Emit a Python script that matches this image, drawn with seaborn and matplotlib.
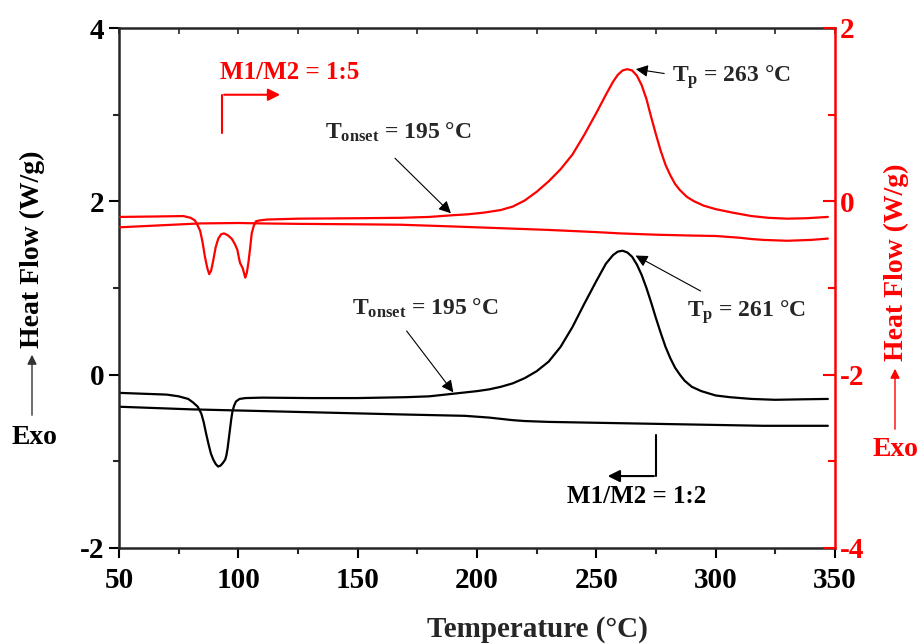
import matplotlib
matplotlib.use('Agg')
import numpy as np
import pandas as pd
import seaborn as sns
import matplotlib.pyplot as plt
from matplotlib.ticker import MultipleLocator

# M1/M2 = 1:2, first run (left axis, W/g)
temp_b1 = [50, 60, 70, 75, 79, 81, 83, 84.5, 85.5, 86.5, 87.5, 88.5, 89.5, 90.5, 91.5, 92.5,
           93.5, 94.5, 95, 95.5, 96, 96.5, 97, 97.5, 98.2, 99, 100.5, 103, 110, 130, 150, 170,
           180, 190, 200, 205, 210, 215, 220, 225, 230, 235, 240, 245, 250, 254, 257, 259, 261,
           263, 265, 267, 269, 271, 273, 275, 277, 279, 281, 283, 285, 287, 290, 294, 300, 306,
           315, 325, 335, 347]
flow_b1 = [-0.21, -0.22, -0.23, -0.25, -0.28, -0.32, -0.37, -0.45, -0.55, -0.68, -0.80, -0.91,
           -0.98, -1.03, -1.06, -1.05, -1.02, -0.98, -0.93, -0.85, -0.74, -0.63, -0.52, -0.43,
           -0.36, -0.31, -0.28, -0.27, -0.265, -0.27, -0.27, -0.26, -0.25, -0.22, -0.19, -0.17,
           -0.14, -0.10, -0.04, 0.04, 0.15, 0.32, 0.55, 0.82, 1.08, 1.28, 1.38, 1.42, 1.43,
           1.41, 1.36, 1.27, 1.15, 1.00, 0.83, 0.65, 0.48, 0.32, 0.19, 0.08, 0.00, -0.07, -0.14,
           -0.19, -0.24, -0.26, -0.28, -0.29, -0.285, -0.28]
# M1/M2 = 1:2, second run
temp_b2 = [50, 80, 110, 140, 170, 195, 200, 205, 210, 215, 220, 230, 240, 260, 280, 300, 320, 347]
flow_b2 = [-0.37, -0.40, -0.42, -0.44, -0.46, -0.475, -0.485, -0.495, -0.51, -0.525, -0.535,
           -0.545, -0.55, -0.56, -0.57, -0.58, -0.59, -0.59]

# M1/M2 = 1:5, first run (right axis, W/g)
temp_r1 = [50, 65, 77, 80, 81.8, 83, 84, 85, 86, 87, 87.8, 88.6, 89.5, 90.5, 91.6, 92.8, 94,
           95.5, 97.2, 98.5, 99.6, 100.3, 100.7, 101.8, 102.5, 102.9, 103.6, 104.2, 104.9,
           105.6, 106.5, 107.4, 109, 112, 125, 150, 168, 180, 190, 196, 203, 210, 215, 220,
           225, 230, 235, 240, 245, 250, 254, 257, 259, 261, 263, 265, 267, 269, 271, 273,
           275, 277, 279, 281, 283, 285, 288, 291, 295, 300, 307, 315, 322, 330, 338, 347]
flow_r1 = [-0.18, -0.175, -0.17, -0.19, -0.22, -0.28, -0.34, -0.47, -0.64, -0.77, -0.84, -0.80,
           -0.68, -0.53, -0.43, -0.38, -0.37, -0.39, -0.43, -0.49, -0.56, -0.66, -0.71, -0.77,
           -0.84, -0.88, -0.82, -0.71, -0.55, -0.37, -0.28, -0.23, -0.22, -0.21, -0.20, -0.195,
           -0.19, -0.18, -0.16, -0.15, -0.13, -0.10, -0.06, 0.01, 0.11, 0.23, 0.37, 0.54, 0.77,
           1.02, 1.23, 1.38, 1.46, 1.51, 1.525, 1.51, 1.45, 1.34, 1.18, 0.97, 0.77, 0.58, 0.42,
           0.30, 0.20, 0.13, 0.05, 0.00, -0.05, -0.09, -0.13, -0.17, -0.19, -0.20, -0.195, -0.18]
# M1/M2 = 1:5, second run
temp_r2 = [50, 65, 84, 100, 110, 125, 150, 168, 190, 210, 230, 250, 260, 275, 290, 300, 305,
           310, 315, 320, 330, 340, 347]
flow_r2 = [-0.30, -0.28, -0.255, -0.25, -0.255, -0.26, -0.265, -0.27, -0.29, -0.31, -0.33,
           -0.355, -0.37, -0.385, -0.395, -0.40, -0.41, -0.42, -0.435, -0.445, -0.455, -0.445,
           -0.43]

sns.set_style('ticks')
plt.rcParams['font.family'] = ['Liberation Serif', 'DejaVu Serif']
plt.rcParams['font.weight'] = 'bold'
plt.rcParams['axes.unicode_minus'] = False
plt.rcParams['mathtext.fontset'] = 'custom'
plt.rcParams['mathtext.rm'] = 'Liberation Serif:bold'
plt.rcParams['mathtext.it'] = 'Liberation Serif:bold'
plt.rcParams['mathtext.bf'] = 'Liberation Serif:bold'

RED = '#ff0000'

fig = plt.figure(figsize=(9.22, 6.44), dpi=100)
ax = fig.add_axes([119 / 922, 1 - 548 / 644, 716 / 922, 520 / 644])
ax2 = ax.twinx()

for t, f in [(temp_b1, flow_b1), (temp_b2, flow_b2)]:
    sns.lineplot(x=t, y=f, ax=ax, color='black', lw=1.6, estimator=None, sort=False)
for t, f in [(temp_r1, flow_r1), (temp_r2, flow_r2)]:
    sns.lineplot(x=t, y=f, ax=ax2, color=RED, lw=1.6, estimator=None, sort=False)

ax.set_xlim(50, 350)
ax.set_ylim(-2, 4)
ax2.set_ylim(-4, 2)

ax.xaxis.set_major_locator(MultipleLocator(50))
ax.xaxis.set_minor_locator(MultipleLocator(25))
ax.yaxis.set_major_locator(MultipleLocator(2))
ax.yaxis.set_minor_locator(MultipleLocator(1))
ax2.yaxis.set_major_locator(MultipleLocator(2))
ax2.yaxis.set_minor_locator(MultipleLocator(1))

ax.tick_params(axis='both', which='major', direction='out', length=7, width=1.5,
               labelsize=21, colors='black')
ax.tick_params(axis='x', which='major', pad=7)
ax.tick_params(axis='both', which='minor', direction='out', length=4, width=1.5)
ax.tick_params(axis='y', right=False)
ax2.tick_params(axis='y', which='major', direction='in', length=9, width=1.5,
                colors=RED, labelsize=21)
ax2.tick_params(axis='y', which='minor', direction='in', length=5, width=1.5, colors=RED)

top = ax.secondary_xaxis('top')
top.xaxis.set_major_locator(MultipleLocator(50))
top.xaxis.set_minor_locator(MultipleLocator(25))
top.tick_params(which='both', direction='in', length=4, width=1.2, labeltop=False)
top.spines['top'].set_visible(False)

for s in ax.spines.values():
    s.set_linewidth(1.8)
ax.spines['right'].set_visible(False)
for side in ['left', 'top', 'bottom']:
    ax2.spines[side].set_visible(False)
ax2.spines['right'].set_color(RED)
ax2.spines['right'].set_linewidth(1.8)
ax2.set_ylabel('')
ax.set_ylabel('')

for lab in ax.get_xticklabels() + ax.get_yticklabels() + ax2.get_yticklabels():
    lab.set_fontweight('bold')

ax.set_xlabel('Temperature (°C)', fontsize=21, fontweight='bold')
ax.xaxis.set_label_coords(0.584, -0.13)

# y axis titles with Exo arrows
fig.text(32 / 922, 1 - 249 / 644, 'Heat Flow (W/g)', rotation=90, ha='center', va='center',
         fontsize=20, fontweight='bold', color='black')
fig.text(34 / 922, 1 - 437 / 644, 'Exo', ha='center', va='center', fontsize=20,
         fontweight='bold', color='black')
fig.text(896 / 922, 1 - 262 / 644, 'Heat Flow (W/g)', rotation=90, ha='center', va='center',
         fontsize=20, fontweight='bold', color=RED)
fig.text(895 / 922, 1 - 449 / 644, 'Exo', ha='center', va='center', fontsize=20,
         fontweight='bold', color=RED)
ax.annotate('', xy=(32 / 922, 1 - 352 / 644), xytext=(32 / 922, 1 - 418 / 644),
            xycoords='figure fraction', textcoords='figure fraction',
            arrowprops=dict(arrowstyle='-|>', color='#333333', lw=1.0, mutation_scale=14))
ax.annotate('', xy=(895 / 922, 1 - 366 / 644), xytext=(895 / 922, 1 - 432 / 644),
            xycoords='figure fraction', textcoords='figure fraction',
            arrowprops=dict(arrowstyle='-|>', color=RED, lw=1.0, mutation_scale=14))

# annotations (left-axis data coordinates)
thin = dict(arrowstyle='-|>', color='black', lw=0.8, mutation_scale=18)
ax.annotate('T$_{\\rm onset}$ = 195 °C', xy=(189.9, 1.84), xytext=(166.9, 2.80),
            ha='center', va='center', fontsize=17, fontweight='bold')
ax.annotate('', xy=(189.9, 1.84), xytext=(164.8, 2.52), arrowprops=thin)
ax.annotate('T$_{\\rm p}$ = 263 °C', xy=(265.4, 3.53), xytext=(281.7, 3.43),
            ha='left', va='center', fontsize=17, fontweight='bold')
ax.annotate('', xy=(265.4, 3.53), xytext=(279.6, 3.47), arrowprops=thin)
ax.annotate('T$_{\\rm onset}$ = 195 °C', xy=(190.8, -0.23), xytext=(178.2, 0.77),
            ha='center', va='center', fontsize=17, fontweight='bold')
ax.annotate('', xy=(190.8, -0.23), xytext=(169.8, 0.53), arrowprops=thin)
ax.annotate('T$_{\\rm p}$ = 261 °C', xy=(265.4, 1.39), xytext=(312.7, 0.72),
            ha='center', va='center', fontsize=17, fontweight='bold')
ax.annotate('', xy=(265.4, 1.39), xytext=(294.7, 0.95), arrowprops=thin)

# sample labels with bent arrows
ax.text(121.6, 3.49, 'M1/M2 = 1:5', ha='center', va='center', fontsize=18,
        fontweight='bold', color=RED)
ax.plot([93.2, 93.2], [2.79, 3.23], color=RED, lw=1.5)
ax.annotate('', xy=(118.7, 3.23), xytext=(92.9, 3.23),
            arrowprops=dict(arrowstyle='-|>', color=RED, lw=1.5, mutation_scale=18))
ax.text(267, -1.41, 'M1/M2 = 1:2', ha='center', va='center', fontsize=18,
        fontweight='bold', color='black')
ax.plot([275, 275], [-0.70, -1.17], color='black', lw=1.5)
ax.annotate('', xy=(253.6, -1.17), xytext=(275.3, -1.17),
            arrowprops=dict(arrowstyle='-|>', color='black', lw=1.5, mutation_scale=18))

fig.savefig('out.png', dpi=100)
